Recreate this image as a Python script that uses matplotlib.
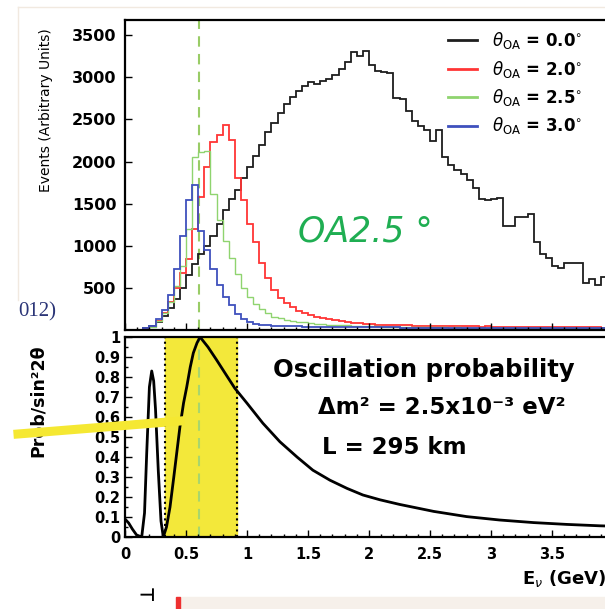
import numpy as np
import matplotlib
matplotlib.use("Agg")
import matplotlib.pyplot as plt
from matplotlib.lines import Line2D
from matplotlib.patches import Rectangle
from matplotlib.ticker import MultipleLocator, FuncFormatter

# istogrammi del flusso (bin da 0.05 GeV, da 0 a 4 GeV)
bin_width = 0.05
ev_00 = [0, 0, 5, 20, 50, 100, 170, 260, 370, 500,
         650, 780, 900, 1000, 1120, 1260, 1420, 1560, 1660, 1800,
         1930, 2060, 2200, 2350, 2460, 2580, 2680, 2770, 2840, 2900,
         2940, 2920, 2960, 2980, 3030, 3100, 3180, 3300, 3250, 3310,
         3150, 3080, 3060, 3050, 2760, 2740, 2600, 2480, 2420, 2380,
         2240, 2370, 2050, 1960, 1900, 1850, 1780, 1680, 1560, 1540,
         1560, 1570, 1240, 1230, 1340, 1340, 1380, 1050, 900, 860,
         760, 740, 790, 790, 790, 560, 600, 540, 630, 620]
ev_20 = [0, 0, 5, 15, 40, 110, 200, 330, 500, 680,
         840, 1200, 1580, 1930, 2230, 2320, 2430, 2250, 1800, 1540,
         1260, 1050, 800, 620, 480, 380, 320, 270, 230, 200,
         180, 160, 140, 130, 115, 105, 95, 85, 80, 75,
         70, 65, 62, 60, 58, 55, 55, 52, 50, 50,
         48, 50, 46, 45, 48, 44, 42, 45, 40, 42,
         40, 38, 40, 36, 38, 35, 36, 34, 35, 33,
         34, 32, 33, 30, 32, 30, 31, 30, 29, 30]
ev_25 = [0, 0, 5, 15, 40, 110, 200, 330, 520, 760,
         1200, 2050, 2110, 2120, 1620, 1300, 1060, 860, 660, 500,
         390, 310, 250, 200, 160, 140, 120, 110, 100, 90,
         80, 75, 70, 65, 60, 60, 55, 50, 50, 45,
         45, 42, 40, 40, 38, 36, 35, 35, 33, 32,
         32, 30, 30, 28, 30, 28, 27, 28, 26, 26,
         25, 26, 24, 25, 24, 23, 24, 22, 23, 22,
         22, 21, 22, 20, 21, 20, 20, 19, 20, 19]
ev_30 = [0, 0, 5, 20, 50, 130, 240, 420, 720, 1120,
         1540, 1720, 1180, 950, 720, 540, 390, 300, 190, 130,
         90, 70, 60, 55, 50, 48, 45, 44, 42, 40,
         40, 38, 38, 36, 36, 35, 34, 34, 33, 32,
         32, 31, 30, 30, 30, 29, 28, 28, 28, 27,
         27, 26, 26, 26, 25, 25, 25, 24, 24, 24,
         23, 23, 23, 22, 22, 22, 22, 21, 21, 21,
         21, 20, 20, 20, 20, 20, 19, 19, 19, 19]
etichette = [r'$\theta_{\rm OA}$ = 0.0$^{\circ}$', r'$\theta_{\rm OA}$ = 2.0$^{\circ}$',
             r'$\theta_{\rm OA}$ = 2.5$^{\circ}$', r'$\theta_{\rm OA}$ = 3.0$^{\circ}$']
colori = ['#1e1e1e', '#ff3535', '#8fd46f', '#3f50bd']

# probabilita' di oscillazione
prob_e = [0.0, 0.03, 0.06, 0.095, 0.137, 0.16, 0.178, 0.2, 0.219, 0.235, 0.25,
          0.273, 0.295, 0.314, 0.34, 0.369, 0.4, 0.424, 0.45, 0.48, 0.506,
          0.535, 0.56, 0.59, 0.615, 0.68, 0.75, 0.83, 0.9, 1.0, 1.13,
          1.27, 1.41, 1.54, 1.68, 1.82, 1.95, 2.09, 2.25, 2.53, 2.8, 3.07,
          3.35, 3.62, 3.89, 4.0]
prob_p = [0.09, 0.07, 0.04, 0.01, 0.0, 0.12, 0.42, 0.75, 0.83, 0.78, 0.64,
          0.33, 0.08, 0.0, 0.05, 0.15, 0.3, 0.42, 0.55, 0.67, 0.75,
          0.85, 0.92, 0.97, 1.0, 0.95, 0.886, 0.81, 0.744, 0.669, 0.569,
          0.476, 0.40, 0.334, 0.284, 0.243, 0.21, 0.186, 0.163, 0.128, 0.102, 0.085,
          0.072, 0.063, 0.056, 0.054]
banda = (0.325, 0.915)
e_picco = 0.61

fig = plt.figure(figsize=(6.05, 6.09), dpi=100)
W, H = 605, 609
x_sx, x_dx = 125, 613

def rect(top, bottom):
    return [x_sx / W, 1 - bottom / H, (x_dx - x_sx) / W, (bottom - top) / H]

# bordo della slide
fig.add_artist(Line2D([18 / W, 1], [1 - 7 / H, 1 - 7 / H], transform=fig.transFigure,
                      color='#f1e9e0', lw=1))
fig.add_artist(Line2D([18 / W, 18 / W], [1 - 7 / H, 1 - 300 / H], transform=fig.transFigure,
                      color='#f1e9e0', lw=1))

ax1 = fig.add_axes(rect(20, 330))
ax2 = fig.add_axes(rect(337, 537))

edges = np.arange(len(ev_00) + 1) * bin_width
for valori, colore, lab in zip([ev_00, ev_20, ev_25, ev_30], colori, etichette):
    lw = 1.0 if colore == '#8fd46f' else 1.3
    ax1.stairs(valori, edges, color=colore, lw=lw, baseline=None, label=lab)

ax1.axvline(e_picco, color='#99cc66', lw=1.5, ls=(0, (5, 3.5)), zorder=0)
ax1.set_xlim(0, 4)
ax1.set_ylim(0, 3680)
ax1.set_yticks([500, 1000, 1500, 2000, 2500, 3000, 3500])
ax1.xaxis.set_major_locator(MultipleLocator(0.5))
ax1.xaxis.set_minor_locator(MultipleLocator(0.1))
ax1.set_xticklabels([])
ax1.tick_params(axis='both', which='both', direction='in', width=1)
ax1.tick_params(axis='both', which='major', length=5)
ax1.tick_params(axis='both', which='minor', length=2.5)
ax1.tick_params(axis='y', labelsize=11.5, pad=6)
for t in ax1.get_yticklabels():
    t.set_fontweight('bold')
ax1.set_ylabel('Events (Arbitrary Units)', fontsize=10)
ax1.yaxis.set_label_coords(-0.148, 0.71)

handles = [Line2D([], [], color=c, lw=2) for c in colori]
leg = ax1.legend(handles, etichette, loc='upper left',
                 bbox_to_anchor=(448 / W, 1 - 30 / H), bbox_transform=fig.transFigure,
                 frameon=False, borderpad=0, borderaxespad=0, handlelength=1.75,
                 handletextpad=0.9, labelspacing=0.45, prop={'weight': 'bold', 'size': 12})

ax1.text(365 / W, 1 - 232 / H, 'OA2.5 °', transform=fig.transFigure, color='#1fae52',
         fontsize=25, style='italic', family='DejaVu Sans', ha='center', va='center')

# pannello inferiore
ax2.axvspan(banda[0], banda[1], color='#f3e83a', zorder=0)
for b in banda:
    ax2.axvline(b, color='black', lw=1.5, ls=':', zorder=1)
ax2.axvline(e_picco, color='#a8d66c', lw=1.5, ls=(0, (5, 3.5)), zorder=1)
ax2.plot(prob_e, prob_p, color='black', lw=2, zorder=3)
ax2.set_xlim(0, 4)
ax2.set_ylim(0, 1)
ax2.xaxis.set_major_locator(MultipleLocator(0.5))
ax2.xaxis.set_minor_locator(MultipleLocator(0.1))
ax2.yaxis.set_major_locator(MultipleLocator(0.1))
ax2.yaxis.set_minor_locator(MultipleLocator(0.05))
fmt = FuncFormatter(lambda v, p: '%g' % round(v, 2))
ax2.xaxis.set_major_formatter(fmt)
ax2.yaxis.set_major_formatter(fmt)
ax2.tick_params(axis='both', which='both', direction='in', width=1)
ax2.tick_params(axis='both', which='major', length=5, labelsize=10.5)
ax2.tick_params(axis='both', which='minor', length=2.5)
ax2.tick_params(axis='x', pad=7)
for t in ax2.get_xticklabels() + ax2.get_yticklabels():
    t.set_fontweight('bold')
ax2.set_ylabel('Prob/sin²2θ', fontsize=12.5, fontweight='bold')
ax2.yaxis.set_label_coords(-0.16, 0.68)
ax2.set_xlabel(r'E$_{\nu}$ (GeV)', fontsize=13, fontweight='bold', loc='right')
ax2.xaxis.set_label_coords((606 - x_sx) / (x_dx - x_sx), -0.155)

ax2.text(273 / W, 1 - 370 / H, 'Oscillation probability', transform=fig.transFigure,
         fontsize=17.5, fontweight='bold', va='center', ha='left')
ax2.text(318 / W, 1 - 408 / H, 'Δm² = 2.5x10⁻³ eV²', transform=fig.transFigure,
         fontsize=16.5, fontweight='bold', va='center', ha='left')
ax2.text(322 / W, 1 - 448 / H, 'L = 295 km', transform=fig.transFigure,
         fontsize=16.5, fontweight='bold', va='center', ha='left')

for ax in (ax1, ax2):
    for s in ax.spines.values():
        s.set_linewidth(1.6)

# elementi della slide attorno al grafico
fig.text(18 / W, 1 - 312 / H, '012)', fontsize=15, family='Liberation Serif',
         color='#2b3577', va='center', ha='left')
fig.add_artist(Line2D([18 / W, 180 / W], [1 - 434 / H, 1 - 421 / H],
                      transform=fig.transFigure, color='#f5e832', lw=6.5, zorder=10))
fig.add_artist(Rectangle((180 / W, 0), 1 - 180 / W, 12 / H, transform=fig.transFigure,
                         color='#f6f0ea', zorder=0))
fig.add_artist(Rectangle((176 / W, 0), 4 / W, 12 / H, transform=fig.transFigure,
                         color='#ee3030', zorder=1))
fig.text(147 / W, 4 / H, '⊣', fontsize=13, fontweight='bold', va='bottom', ha='center')

fig.savefig('out.png', dpi=100)
